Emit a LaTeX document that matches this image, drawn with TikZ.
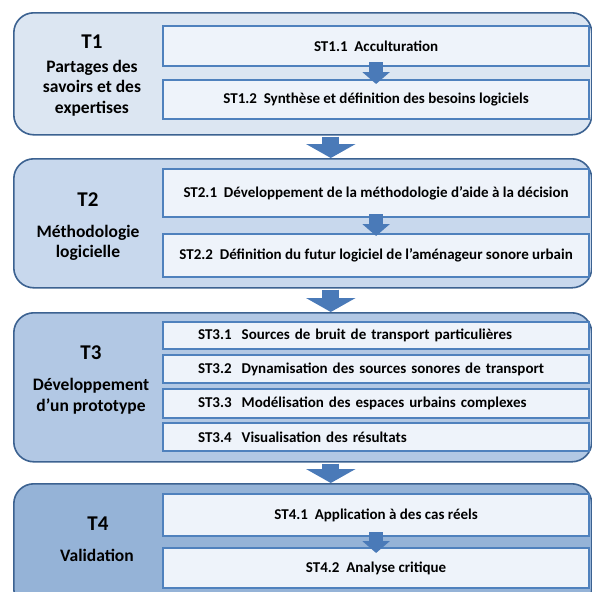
\documentclass[tikz,border=0pt]{standalone}
\usepackage{fontspec}
\setmainfont{Carlito}
\usetikzlibrary{arrows.meta,positioning}
\definecolor{panelA}{RGB}{220,230,242}
\definecolor{panelB}{RGB}{200,216,237}
\definecolor{panelC}{RGB}{178,200,228}
\definecolor{panelD}{RGB}{149,179,215}
\definecolor{panelEdge}{RGB}{60,98,145}
\definecolor{subFill}{RGB}{238,243,250}
\definecolor{subEdge}{RGB}{79,129,189}
\definecolor{arrowBlue}{RGB}{74,122,184}

\begin{document}
\begin{tikzpicture}[x=1pt,y=-1pt,
Panel/.style={draw=panelEdge,line width=1.6pt,rounded corners=20pt,anchor=north west,minimum width=578pt,inner sep=0pt},
SubTask/.style={draw=subEdge,fill=subFill,line width=2.2pt,anchor=north west,minimum width=426pt,inner sep=0pt,font=\fontsize{15}{17}\selectfont\bfseries},
SubTaskLeft/.style={SubTask,text width=356pt,inner xsep=35pt,align=left},
TaskNum/.style={font=\fontsize{21}{25}\selectfont\bfseries},
TaskName/.style={font=\fontsize{17.5}{20.5}\selectfont\bfseries,align=center},
BigArrow/.style={arrowBlue,line width=17pt,-{Triangle[length=14pt,width=49pt]}},
SmallArrow/.style={arrowBlue,line width=14pt,-{Triangle[length=12pt,width=27pt]}}
]
\useasboundingbox (0,0) rectangle (592,592);
\clip (0,0) rectangle (592,592);

% the four tasks
\node[Panel,fill=panelA,minimum height=122pt] (T1) at (13,12) {};
\node[Panel,fill=panelB,minimum height=129pt] (T2) at (13,158) {};
\node[Panel,fill=panelC,minimum height=149pt] (T3) at (13,312) {};
\node[Panel,fill=panelD,minimum height=125pt] (T4) at (13,483) {};

\node[TaskNum] (t1num) at (92,42) {T1};
\node[TaskName] (t1name) at (92,88) {Partages des\\savoirs et des\\expertises};
\node[TaskNum] (t2num) at (88,200) {T2};
\node[TaskName] (t2name) at (88,243) {Méthodologie\\logicielle};
\node[TaskNum] (t3num) at (91,353) {T3};
\node[TaskName] (t3name) at (91,396) {Développement\\d’un prototype};
\node[TaskNum] (t4num) at (98,524) {T4};
\node[TaskName] (t4name) at (97,555) {Validation};

% sub-tasks
\node[SubTask,minimum height=40pt] (st11) at (162,25) {ST1.1\ \ Acculturation};
\node[SubTask,minimum height=39pt] (st12) at (162,79) {ST1.2\ \ Synthèse et définition des besoins logiciels};

\node[SubTask,minimum height=48pt] (st21) at (162,168) {ST2.1\ \ Développement de la méthodologie d’aide à la décision};
\node[SubTask,minimum height=43pt] (st22) at (162,233) {ST2.2\ \ Définition du futur logiciel de l’aménageur sonore urbain};

\node[SubTaskLeft,minimum height=27pt] (st31) at (162,321) {ST3.1\ \ Sources de bruit de transport particulières};
\node[SubTaskLeft,minimum height=28pt] (st32) at (162,354) {ST3.2\ \ Dynamisation des sources sonores de transport};
\node[SubTaskLeft,minimum height=29pt] (st33) at (162,388) {ST3.3\ \ Modélisation des espaces urbains complexes};
\node[SubTaskLeft,minimum height=28pt] (st34) at (162,422) {ST3.4\ \ Visualisation des résultats};

\node[SubTask,minimum height=42pt] (st41) at (162,493) {ST4.1\ \ Application à des cas réels};
\node[SubTask,minimum height=40pt] (st42) at (162,547) {ST4.2\ \ Analyse critique};

% arrows
\draw[SmallArrow] ([yshift=5pt]st11.south) -- ([yshift=-5pt]st12.north);
\draw[SmallArrow] ([yshift=4pt]st21.south) -- ([yshift=-3pt]st22.north);
\draw[SmallArrow] ([yshift=5pt]st41.south) -- ([yshift=-6pt]st42.north);

\draw[BigArrow] ([xshift=28pt,yshift=-1pt]T1.south) -- ([xshift=28pt]T2.north);
\draw[BigArrow] ([xshift=28pt,yshift=-1pt]T2.south) -- ([xshift=28pt]T3.north);
\draw[BigArrow] ([xshift=28pt,yshift=-1pt]T3.south) -- ([xshift=28pt]T4.north);

\end{tikzpicture}
\end{document}
